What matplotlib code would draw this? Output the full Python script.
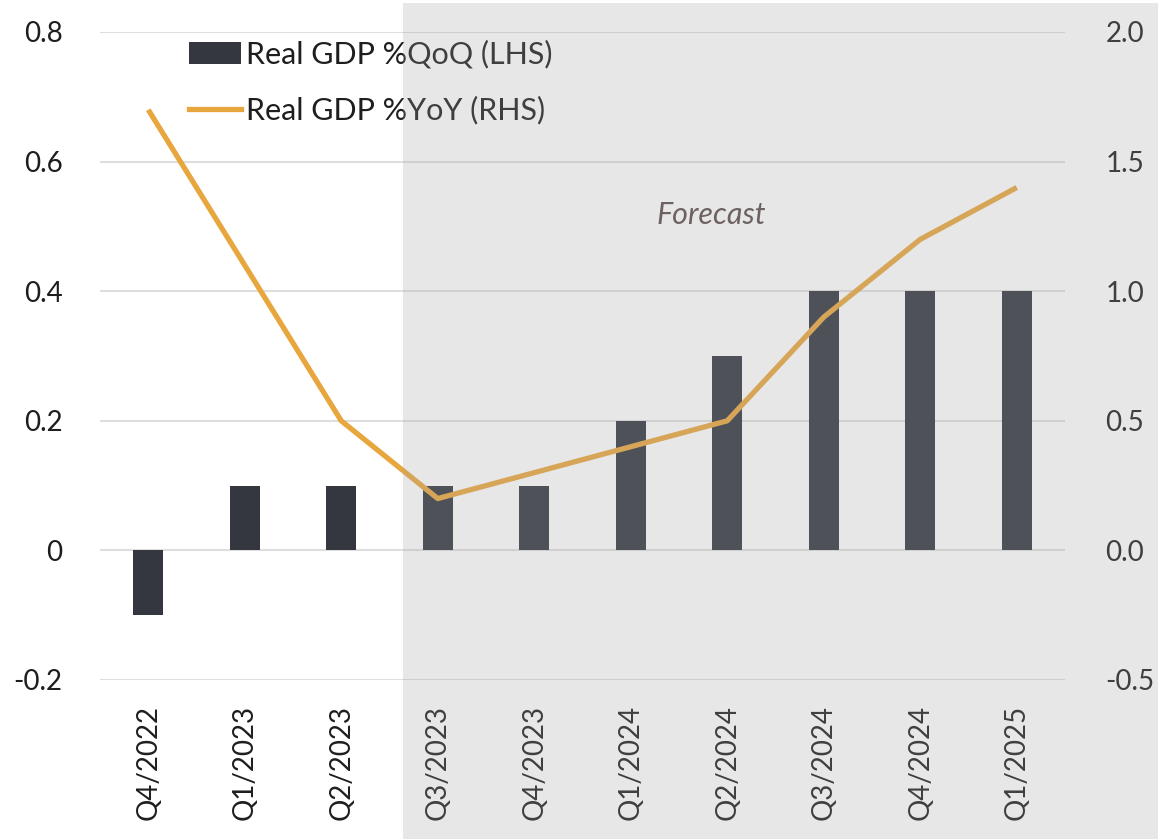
import matplotlib
matplotlib.use('Agg')
import matplotlib.pyplot as plt
from matplotlib.patches import Patch, Rectangle
from matplotlib.lines import Line2D
from matplotlib.transforms import blended_transform_factory
import numpy as np

plt.rcParams['font.family'] = ['Lato', 'DejaVu Sans']

# ============================================================
#  데이터
# ============================================================
quarters = ['Q4/2022', 'Q1/2023', 'Q2/2023', 'Q3/2023', 'Q4/2023',
            'Q1/2024', 'Q2/2024', 'Q3/2024', 'Q4/2024', 'Q1/2025']
gdp_qoq = [-0.1, 0.1, 0.1, 0.1, 0.1, 0.2, 0.3, 0.4, 0.4, 0.4]
gdp_yoy = [1.7, 1.1, 0.5, 0.2, 0.3, 0.4, 0.5, 0.9, 1.2, 1.4]
left_ticks = [-0.2, 0, 0.2, 0.4, 0.6, 0.8]
left_labels = ['-0.2', '0', '0.2', '0.4', '0.6', '0.8']
right_ticks = [-0.5, 0.0, 0.5, 1.0, 1.5, 2.0]
forecast_start = 3  # Q3/2023 부터 전망

BAR_COLOR = '#343640'
LINE_COLOR = '#E8A73E'
TEXT_COLOR = '#1e1e1e'

fig = plt.figure(figsize=(11.58, 8.39), dpi=100)
ax = fig.add_axes([100 / 1158, 159 / 839, 965 / 1158, 648 / 839])
ax2 = ax.twinx()

x = np.arange(len(quarters))

# 그리드
ax.set_ylim(-0.2, 0.8)
ax.set_yticks(left_ticks)
ax.set_yticklabels(left_labels)
ax.grid(axis='y', color='#dedede', lw=1.5, zorder=0)
ax.set_axisbelow(True)

ax.bar(x, gdp_qoq, width=0.31, color=BAR_COLOR, zorder=2)
ax.set_xlim(-0.5, len(quarters) - 0.5)
ax.set_xticks(x)
ax.set_xticklabels(quarters, rotation=90)

ax2.plot(x, gdp_yoy, color=LINE_COLOR, lw=3.8, solid_capstyle='butt', zorder=3)
ax2.set_ylim(-0.5, 2.0)
ax2.set_yticks(right_ticks)
ax2.set_yticklabels([f'{v:.1f}' for v in right_ticks])

for a in (ax, ax2):
    for s in a.spines.values():
        s.set_visible(False)
    a.tick_params(length=0, labelsize=20, colors=TEXT_COLOR)
ax.tick_params(axis='y', pad=27)
ax.tick_params(axis='x', pad=18)
ax2.tick_params(axis='y', pad=29)

# 범례
handles = [Patch(facecolor=BAR_COLOR, edgecolor='none'),
           Line2D([], [], color=LINE_COLOR, lw=3.8)]
leg = ax2.legend(handles, ['Real GDP %QoQ (LHS)', 'Real GDP %YoY (RHS)'],
                 loc='upper left', bbox_to_anchor=(0.064, 1.03), frameon=False,
                 fontsize=22, handlelength=1.7, handletextpad=0.15,
                 labelspacing=0.88, labelcolor=TEXT_COLOR)

ax.text(5.84, 0.518, 'Forecast', style='italic', fontsize=22,
        color='#5c4c4c', ha='center', va='center', zorder=5)

# 전망 구간 음영 (반투명 오버레이)
tr = blended_transform_factory(ax.transData, fig.transFigure)
shade = Rectangle((forecast_start - 0.36, 0), 20, 836 / 839, transform=tr,
                  facecolor='#a3a3a3', alpha=0.25, edgecolor='none',
                  clip_on=False, zorder=10)
fig.add_artist(shade)

fig.savefig('out.png', dpi=100)
